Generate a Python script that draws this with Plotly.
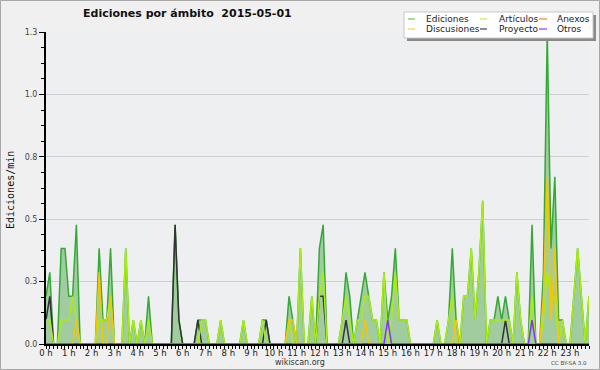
import plotly.graph_objects as go

# 10-minute slots, 0..143 (00:00 .. 23:50)
slots = list(range(144))
hour_ticks = list(range(0, 144, 6))
hour_labels = [f"{h} h" for h in range(24)]

y_ticks = [0, 0.25, 0.5, 0.75, 1.0, 1.25]
y_labels = ["0.0", "0.3", "0.5", "0.8", "1.0", "1.3"]

ediciones = [
    0.191, 0.287, 0, 0, 0.383, 0.383, 0.191, 0.191, 0.478, 0, 0, 0,
    0, 0, 0.383, 0.096, 0.096, 0.383, 0, 0, 0, 0.383, 0, 0.096,
    0, 0.096, 0, 0.191, 0, 0, 0, 0, 0, 0, 0.478, 0.096,
    0, 0, 0, 0, 0.096, 0.096, 0.096, 0, 0, 0, 0.096, 0,
    0, 0, 0, 0, 0.096, 0, 0, 0, 0, 0.096, 0.096, 0,
    0, 0, 0, 0, 0.191, 0.096, 0, 0.383, 0, 0, 0.191, 0,
    0.383, 0.478, 0, 0, 0, 0, 0.096, 0.287, 0.191, 0, 0.096, 0.191,
    0.287, 0.191, 0.096, 0.096, 0, 0.287, 0.096, 0.191, 0.383, 0.096, 0.096, 0.096,
    0, 0, 0, 0, 0, 0, 0, 0.096, 0, 0, 0.096, 0.383,
    0.096, 0, 0.191, 0.191, 0.383, 0.096, 0.287, 0.574, 0, 0.096, 0.096, 0.191,
    0.096, 0.191, 0.096, 0, 0.287, 0.096, 0, 0, 0.478, 0, 0, 0.287,
    1.244, 0.383, 0.67, 0.096, 0.096, 0, 0, 0.191, 0.383, 0.191, 0, 0.191,
]

articulos = [
    0.096, 0.096, 0, 0, 0.096, 0.096, 0.096, 0.191, 0.096, 0, 0, 0,
    0, 0, 0.096, 0.096, 0.096, 0.191, 0, 0, 0, 0.383, 0, 0.096,
    0, 0.096, 0, 0.096, 0, 0, 0, 0, 0, 0, 0, 0,
    0, 0, 0, 0, 0, 0.096, 0.096, 0, 0, 0, 0.096, 0,
    0, 0, 0, 0, 0.096, 0, 0, 0, 0, 0.096, 0, 0,
    0, 0, 0, 0, 0.096, 0, 0, 0.383, 0, 0, 0.191, 0,
    0.191, 0.287, 0, 0, 0, 0, 0.096, 0.191, 0.096, 0, 0.096, 0.096,
    0.191, 0.191, 0.096, 0.096, 0, 0.287, 0, 0.096, 0.287, 0.096, 0.096, 0.096,
    0, 0, 0, 0, 0, 0, 0, 0.096, 0, 0, 0.096, 0.191,
    0, 0, 0.191, 0.191, 0.383, 0.096, 0.287, 0.574, 0, 0.096, 0.096, 0.096,
    0.096, 0.096, 0.096, 0, 0.287, 0.096, 0, 0, 0.191, 0, 0, 0.096,
    0.287, 0.191, 0.191, 0, 0.096, 0, 0, 0.191, 0.383, 0.191, 0, 0.191,
]

anexos = [0] * 144

discusiones = [
    0, 0, 0, 0, 0, 0, 0, 0, 0.096, 0, 0, 0,
    0, 0, 0.287, 0, 0, 0.191, 0, 0, 0, 0, 0, 0,
    0, 0, 0, 0, 0, 0, 0, 0, 0, 0, 0, 0,
    0, 0, 0, 0, 0, 0, 0, 0, 0, 0, 0, 0,
    0, 0, 0, 0, 0, 0, 0, 0, 0, 0, 0, 0,
    0, 0, 0, 0, 0.096, 0.096, 0, 0, 0, 0, 0, 0,
    0, 0, 0, 0, 0, 0, 0, 0, 0, 0, 0, 0,
    0.096, 0, 0, 0, 0, 0, 0, 0, 0, 0, 0, 0,
    0, 0, 0, 0, 0, 0, 0, 0, 0, 0, 0, 0,
    0.096, 0, 0, 0, 0, 0, 0, 0, 0, 0, 0, 0,
    0, 0, 0, 0, 0, 0, 0, 0, 0, 0, 0, 0.191,
    0.67, 0.096, 0.383, 0, 0, 0, 0, 0, 0, 0, 0, 0,
]

proyecto = [
    0.096, 0.191, 0, 0, 0, 0, 0, 0, 0, 0, 0, 0,
    0, 0, 0, 0, 0, 0, 0, 0, 0, 0, 0, 0,
    0, 0, 0, 0, 0, 0, 0, 0, 0, 0, 0.478, 0.096,
    0, 0, 0, 0, 0.096, 0, 0, 0, 0, 0, 0, 0,
    0, 0, 0, 0, 0, 0, 0, 0, 0, 0, 0.096, 0,
    0, 0, 0, 0, 0, 0, 0, 0, 0, 0, 0, 0,
    0.191, 0.191, 0, 0, 0, 0, 0, 0.096, 0, 0, 0, 0,
    0, 0, 0, 0, 0, 0, 0, 0, 0, 0, 0, 0,
    0, 0, 0, 0, 0, 0, 0, 0, 0, 0, 0, 0,
    0, 0, 0, 0, 0, 0, 0, 0, 0, 0, 0, 0,
    0, 0.096, 0, 0, 0, 0, 0, 0, 0, 0, 0, 0,
    0, 0, 0, 0, 0, 0, 0, 0, 0, 0, 0, 0,
]

otros = [
    0, 0, 0, 0, 0, 0, 0, 0, 0, 0, 0, 0,
    0, 0, 0, 0, 0, 0, 0, 0, 0, 0, 0, 0,
    0, 0, 0, 0, 0, 0, 0, 0, 0, 0, 0, 0,
    0, 0, 0, 0, 0, 0, 0, 0, 0, 0, 0, 0,
    0, 0, 0, 0, 0, 0, 0, 0, 0, 0, 0, 0,
    0, 0, 0, 0, 0, 0, 0, 0, 0, 0, 0, 0,
    0, 0, 0, 0, 0, 0, 0, 0, 0, 0, 0, 0,
    0, 0, 0, 0, 0, 0, 0.096, 0, 0, 0, 0, 0,
    0, 0, 0, 0, 0, 0, 0, 0, 0, 0, 0, 0,
    0, 0, 0, 0, 0, 0, 0, 0, 0, 0, 0, 0,
    0, 0, 0, 0, 0, 0, 0, 0, 0.096, 0, 0, 0,
    0, 0, 0, 0, 0, 0, 0, 0, 0, 0, 0, 0,
]

series_names = ["Ediciones", "Artículos", "Anexos", "Discusiones", "Proyecto", "Otros"]
legend_colors = ["#6cc46c", "#c8ee44", "#ff7f3f", "#ffd23a", "#444444", "#8a3ff0"]

W, H = 600, 370
ML, MR, MT, MB = 46, 11, 32, 26
PW, PH = W - ML - MR, H - MT - MB


def fx(px):
    return (px - ML) / PW


def fy(py):
    return (H - MB - py) / PH


fig = go.Figure()
fig.add_trace(go.Scatter(x=slots, y=ediciones, mode="lines", fill="tozeroy",
                         fillcolor="rgb(160,204,160)",
                         line=dict(color="#36a836", width=1.5), showlegend=False,
                         name="Ediciones"))
fig.add_trace(go.Scatter(x=slots, y=anexos, mode="lines",
                         line=dict(color="#ff7733", width=1.5), showlegend=False, name="Anexos"))
fig.add_trace(go.Scatter(x=slots, y=proyecto, mode="lines",
                         line=dict(color="#333333", width=1.5), showlegend=False, name="Proyecto"))
fig.add_trace(go.Scatter(x=slots, y=articulos, mode="lines",
                         line=dict(color="#aaee11", width=1.5), showlegend=False, name="Artículos"))
fig.add_trace(go.Scatter(x=slots, y=discusiones, mode="lines",
                         line=dict(color="#f7c600", width=1.5), showlegend=False, name="Discusiones"))
fig.add_trace(go.Scatter(x=slots, y=otros, mode="lines",
                         line=dict(color="#7f33ff", width=1.5), showlegend=False, name="Otros"))

shapes = []
# outer border
shapes.append(dict(type="rect", xref="paper", yref="paper",
                   x0=fx(0.5), x1=fx(599.5), y0=fy(369.5), y1=fy(0.5),
                   line=dict(color="#a8a8a8", width=1), fillcolor="rgba(0,0,0,0)", layer="below"))
# legend shadow + box
shapes.append(dict(type="rect", xref="paper", yref="paper",
                   x0=fx(407), x1=fx(596), y0=fy(41), y1=fy(15),
                   line=dict(width=0), fillcolor="#8a8a8a"))
shapes.append(dict(type="rect", xref="paper", yref="paper",
                   x0=fx(404), x1=fx(593), y0=fy(38), y1=fy(12),
                   line=dict(color="#c8c8c8", width=1), fillcolor="white"))

annotations = []
col_line_x = [(408, 415), (480, 487), (539, 547)]
col_text_x = [424, 497, 555]
row_y = [19, 29]
for k, (nm, col) in enumerate(zip(series_names, legend_colors)):
    r, c = divmod(k, 3)
    x0, x1 = col_line_x[c]
    shapes.append(dict(type="line", xref="paper", yref="paper",
                       x0=fx(x0), x1=fx(x1), y0=fy(row_y[r]), y1=fy(row_y[r]),
                       line=dict(color=col, width=1.2)))
    annotations.append(dict(text=nm, xref="paper", yref="paper", x=fx(col_text_x[c]),
                            y=fy(row_y[r]), xanchor="left", yanchor="middle", showarrow=False,
                            font=dict(family="DejaVu Sans", size=9, color="#222")))

annotations.append(dict(text="<b>Ediciones por ámbito  2015-05-01</b>", xref="paper", yref="paper",
                        x=fx(187), y=fy(13.5), xanchor="center", yanchor="middle", showarrow=False,
                        font=dict(family="DejaVu Sans", size=11, color="#111")))
annotations.append(dict(text="Ediciones/min", xref="paper", yref="paper", x=fx(10), y=fy(190),
                        xanchor="center", yanchor="middle", textangle=-90, showarrow=False,
                        font=dict(family="DejaVu Sans Mono", size=10, color="#111")))
annotations.append(dict(text="wikiscan.org", xref="paper", yref="paper", x=fx(300), y=fy(362.5),
                        xanchor="center", yanchor="middle", showarrow=False,
                        font=dict(family="DejaVu Sans", size=8, color="#333")))
annotations.append(dict(text="CC BY-SA 3.0", xref="paper", yref="paper", x=fx(589), y=fy(362.5),
                        xanchor="right", yanchor="middle", showarrow=False,
                        font=dict(family="DejaVu Sans", size=5.5, color="#444")))

fig.update_layout(
    width=W, height=H, margin=dict(l=ML, r=MR, t=MT, b=MB, pad=0, autoexpand=False),
    paper_bgcolor="#f0f0f0", plot_bgcolor="#eeeff1",
    showlegend=False, shapes=shapes, annotations=annotations,
    xaxis=dict(range=[0, 143], tickmode="array", tickvals=hour_ticks, ticktext=hour_labels,
               tickangle=0, automargin=False, ticklabelstandoff=-3,
               ticks="outside", ticklen=3, tickwidth=1, tickcolor="black",
               showline=True, linecolor="black", linewidth=2, showgrid=False, zeroline=False,
               minor=dict(tickmode="linear", tick0=0, dtick=1, ticks="outside", ticklen=3,
                          tickcolor="black", showgrid=False),
               tickfont=dict(family="DejaVu Sans", size=8.5, color="#222")),
    yaxis=dict(range=[0, 1.25], tickmode="array", tickvals=y_ticks, ticktext=y_labels,
               automargin=False,
               ticks="outside", ticklen=5, tickwidth=1, tickcolor="black",
               showline=True, linecolor="black", linewidth=2, showgrid=True,
               gridcolor="#cfcfcf", gridwidth=1, zeroline=False,
               minor=dict(tickmode="linear", tick0=0, dtick=0.0625, ticks="outside", ticklen=3,
                          tickcolor="black", showgrid=False),
               tickfont=dict(family="DejaVu Sans", size=8, color="#444")),
)

fig.write_html("out.html", config={"displayModeBar": False},
               post_script="document.body.style.margin='0';document.body.style.overflow='hidden';")
